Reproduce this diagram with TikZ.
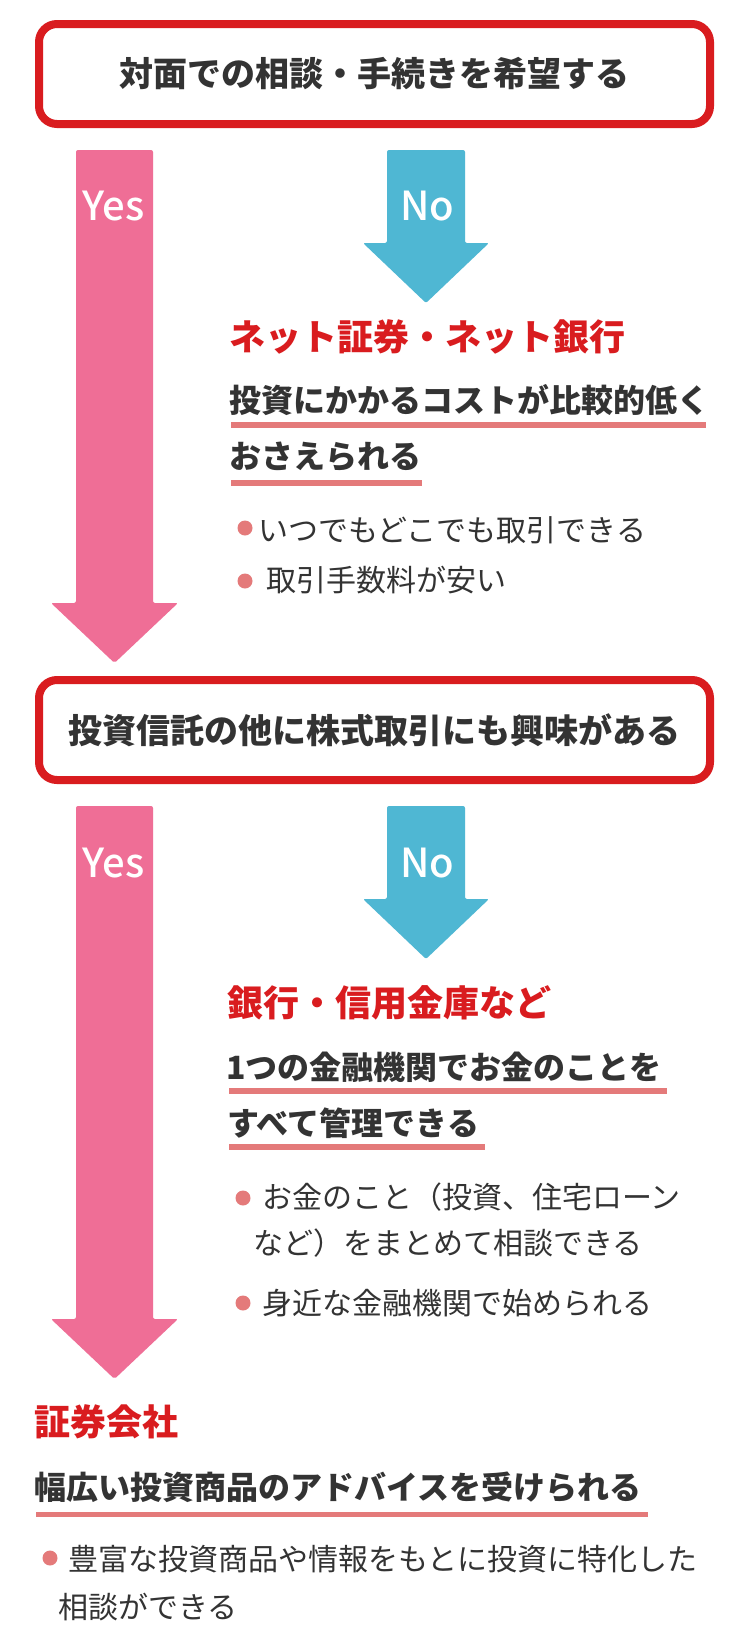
\documentclass[tikz,border=0pt]{standalone}
\usepackage{fontspec}
\setmainfont{Noto Sans CJK JP}
\newfontfamily\ynfont{Noto Sans CJK JP Medium}

\definecolor{boxred}{HTML}{D91C1F}
\definecolor{yespink}{HTML}{EF6E96}
\definecolor{noblue}{HTML}{4FB7D3}
\definecolor{lineRose}{HTML}{E47A7A}
\definecolor{ink}{HTML}{333333}

\tikzset{
  qbox/.style={draw=boxred, line width=8pt, rounded corners=18pt, fill=white, minimum width=671pt, minimum height=100pt, inner sep=0pt, text=ink, font=\fontsize{34}{40}\selectfont\bfseries},
  yesarrow/.style={fill=yespink, rounded corners=2pt},
  noarrow/.style={fill=noblue, rounded corners=2pt},
  ynlabel/.style={text=white, font=\ynfont\fontsize{40}{44}\selectfont, anchor=base, inner sep=0pt},
  headline/.style={text=boxred, font=\fontsize{36}{40}\selectfont\bfseries, anchor=base west, inner sep=0pt},
  keypoint/.style={text=ink, font=\fontsize{32}{36}\selectfont\bfseries, anchor=base west, inner sep=0pt},
  merit/.style={text=ink, font=\fontsize{30}{34}\selectfont, anchor=base west, inner sep=0pt},
  markline/.style={draw=lineRose, line width=5.5pt},
  bulletdot/.style={fill=lineRose, circle, inner sep=0pt, minimum size=15pt}
}

\begin{document}
\begin{tikzpicture}[x=1pt,y=-1pt]
\path[use as bounding box, fill=white] (0,0) rectangle (750,1650);

\node[qbox] (q1) at (374.5,74) {対面での相談・手続きを希望する};



\coordinate (yesTop1) at (114.5,150);
\coordinate (yesTip1) at (114.5,663);
  \fill[yesarrow] ([xshift=-38.5pt]yesTop1) -- ([xshift=38.5pt]yesTop1) -- ([xshift=38.5pt,yshift=60pt]yesTip1) -- ([xshift=63.5pt,yshift=60pt]yesTip1) -- (yesTip1) -- ([xshift=-63.5pt,yshift=60pt]yesTip1) -- ([xshift=-38.5pt,yshift=60pt]yesTip1) -- cycle;
  \node[ynlabel] (yes1) at (113.5,220) {Yes};

\coordinate (noTop1) at (426,150);
\coordinate (noTip1) at (426,303);
  \fill[noarrow] ([xshift=-39pt]noTop1) -- ([xshift=39pt]noTop1) -- ([xshift=39pt,yshift=60pt]noTip1) -- ([xshift=63pt,yshift=60pt]noTip1) -- (noTip1) -- ([xshift=-63pt,yshift=60pt]noTip1) -- ([xshift=-39pt,yshift=60pt]noTip1) -- cycle;
  \node[ynlabel] (no1) at (427,220) {No};



\node[headline] (net) at (229,350) {ネット証券・ネット銀行};

\node[keypoint] (cost1) at (229,412) {投資にかかるコストが比較的低く};
\draw[markline] (231,425) -- (706,425);
\node[keypoint] (cost2) at (229,468) {おさえられる};
\draw[markline] (231,483) -- (422,483);

  \node[bulletdot] (b1) at (245,528) {};
  \node[merit] (m1) at (258,541) {いつでもどこでも取引できる};
  \node[bulletdot] (b2) at (245,581) {};
  \node[merit] (m2) at (266,591) {取引手数料が安い};



\node[qbox] (q2) at (374.5,730) {投資信託の他に株式取引にも興味がある};



\coordinate (yesTop2) at (114.5,806);
\coordinate (yesTip2) at (114.5,1379);
  \fill[yesarrow] ([xshift=-38.5pt]yesTop2) -- ([xshift=38.5pt]yesTop2) -- ([xshift=38.5pt,yshift=60pt]yesTip2) -- ([xshift=63.5pt,yshift=60pt]yesTip2) -- (yesTip2) -- ([xshift=-63.5pt,yshift=60pt]yesTip2) -- ([xshift=-38.5pt,yshift=60pt]yesTip2) -- cycle;
  \node[ynlabel] (yes2) at (113.5,877) {Yes};

\coordinate (noTop2) at (426,806);
\coordinate (noTip2) at (426,959);
  \fill[noarrow] ([xshift=-39pt]noTop2) -- ([xshift=39pt]noTop2) -- ([xshift=39pt,yshift=60pt]noTip2) -- ([xshift=63pt,yshift=60pt]noTip2) -- (noTip2) -- ([xshift=-63pt,yshift=60pt]noTip2) -- ([xshift=-39pt,yshift=60pt]noTip2) -- cycle;
  \node[ynlabel] (no2) at (427,877) {No};



\node[headline] (bank) at (227,1016) {銀行・信用金庫など};

\node[keypoint] (one1) at (226,1079) {1つの金融機関でお金のことを};
\draw[markline] (229,1091) -- (667,1091);
\node[keypoint] (one2) at (227,1135) {すべて管理できる};
\draw[markline] (229,1147) -- (485,1147);

  \node[bulletdot] (b3) at (243,1198) {};
  \node[merit] (m3) at (262,1208) {お金のこと（投資、住宅ローン};
  \node[merit] (m3b) at (253,1254) {など）をまとめて相談できる};
  \node[bulletdot] (b4) at (243,1303) {};
  \node[merit] (m4) at (262,1314) {身近な金融機関で始められる};



\node[headline] (sec) at (34,1435) {証券会社};

\node[keypoint] (adv) at (34,1499) {幅広い投資商品のアドバイスを受けられる};
\draw[markline] (36,1514.5) -- (648,1514.5);

  \node[bulletdot] (b5) at (50,1558) {};
  \node[merit] (m5) at (68,1570) {豊富な投資商品や情報をもとに投資に特化した};
  \node[merit] (m5b) at (58,1618) {相談ができる};

\end{tikzpicture}
\end{document}
